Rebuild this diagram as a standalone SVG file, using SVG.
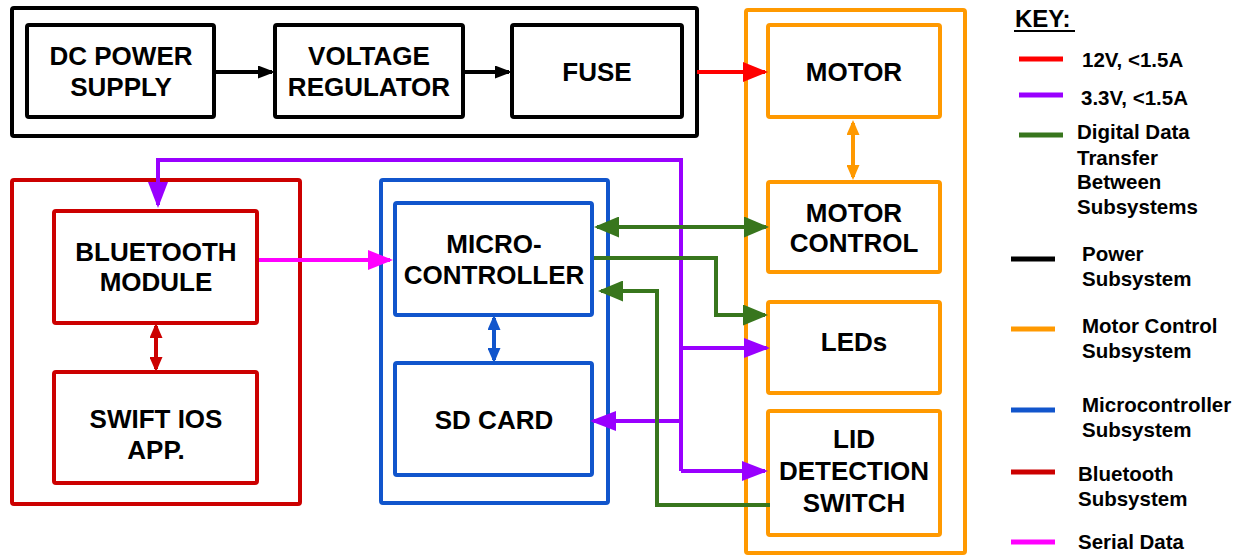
<svg xmlns="http://www.w3.org/2000/svg" width="1241" height="557" viewBox="0 0 1241 557">
<style>
text{font-family:"Liberation Sans",Arial,sans-serif;font-weight:bold;fill:#000}
.n{font-size:26px;text-anchor:middle}
.k{font-size:20.5px}
rect{fill:none;stroke-width:4}
.bk{stroke:#000}.or{stroke:#ff9900}.rd{stroke:#cc0000}.bl{stroke:#1155cc}
.c{fill:none;stroke-width:4}
.kl{stroke-width:5}
</style>
<defs>
<marker id="mBk" markerUnits="userSpaceOnUse" markerWidth="17" markerHeight="13" refX="14" refY="6.5" orient="auto-start-reverse"><path d="M0,0L17,6.5L0,13z" fill="#000"/></marker>
<marker id="mR" markerUnits="userSpaceOnUse" markerWidth="25" markerHeight="20" refX="22" refY="10" orient="auto-start-reverse"><path d="M0,0L25,10L0,20z" fill="#ff0000"/></marker>
<marker id="mP" markerUnits="userSpaceOnUse" markerWidth="26" markerHeight="20" refX="23" refY="10" orient="auto-start-reverse"><path d="M0,0L26,10L0,20z" fill="#9900ff"/></marker>
<marker id="mG" markerUnits="userSpaceOnUse" markerWidth="25" markerHeight="21" refX="22" refY="10.5" orient="auto-start-reverse"><path d="M0,0L25,10.5L0,21z" fill="#38761d"/></marker>
<marker id="mM" markerUnits="userSpaceOnUse" markerWidth="25" markerHeight="20" refX="22" refY="10" orient="auto-start-reverse"><path d="M0,0L25,10L0,20z" fill="#ff00ff"/></marker>
<marker id="mDR" markerUnits="userSpaceOnUse" markerWidth="15" markerHeight="13" refX="12" refY="6.5" orient="auto-start-reverse"><path d="M0,0L15,6.5L0,13z" fill="#cc0000"/></marker>
<marker id="mBl" markerUnits="userSpaceOnUse" markerWidth="15" markerHeight="13" refX="12" refY="6.5" orient="auto-start-reverse"><path d="M0,0L15,6.5L0,13z" fill="#1155cc"/></marker>
<marker id="mO" markerUnits="userSpaceOnUse" markerWidth="15" markerHeight="13" refX="12" refY="6.5" orient="auto-start-reverse"><path d="M0,0L15,6.5L0,13z" fill="#ff9900"/></marker>
</defs>
<rect width="1241" height="557" fill="#fff" stroke="none"/>

<g id="power-subsystem"><rect class="bk" x="12" y="8" width="685" height="128" rx="2"/></g>
<g id="motor-subsystem"><rect class="or" x="746" y="10" width="219" height="543" rx="2"/></g>
<g id="bluetooth-subsystem"><rect class="rd" x="12" y="180" width="288" height="324" rx="2"/></g>
<g id="micro-subsystem"><rect class="bl" x="381" y="180" width="227" height="323" rx="2"/></g>

<g id="dc-power-supply"><rect class="bk" x="27" y="25" width="187" height="92" rx="2"/>
<text class="n" x="121" y="65">DC POWER</text><text class="n" x="121" y="96">SUPPLY</text></g>
<g id="voltage-regulator"><rect class="bk" x="275" y="25" width="188" height="92" rx="2"/>
<text class="n" x="369" y="65">VOLTAGE</text><text class="n" x="369" y="96">REGULATOR</text></g>
<g id="fuse"><rect class="bk" x="512" y="25" width="170" height="92" rx="2"/>
<text class="n" x="597" y="81">FUSE</text></g>

<g id="motor"><rect class="or" x="768" y="25" width="172" height="92" rx="2"/>
<text class="n" x="854" y="81">MOTOR</text></g>
<g id="motor-control"><rect class="or" x="768" y="182" width="172" height="90" rx="2"/>
<text class="n" x="854" y="222">MOTOR</text><text class="n" x="854" y="252">CONTROL</text></g>
<g id="leds"><rect class="or" x="768" y="302" width="172" height="91" rx="2"/>
<text class="n" x="854" y="351">LEDs</text></g>
<g id="lid-detection-switch"><rect class="or" x="768" y="411" width="172" height="124" rx="2"/>
<text class="n" x="854" y="448">LID</text><text class="n" x="854" y="480">DETECTION</text><text class="n" x="854" y="512">SWITCH</text></g>

<g id="bluetooth-module"><rect class="rd" x="54" y="211" width="203" height="112" rx="2"/>
<text class="n" x="156" y="261">BLUETOOTH</text><text class="n" x="156" y="291">MODULE</text></g>
<g id="swift-ios-app"><rect class="rd" x="54" y="372" width="203" height="111" rx="2"/>
<text class="n" x="156" y="428">SWIFT IOS</text><text class="n" x="156" y="459">APP.</text></g>

<g id="microcontroller"><rect class="bl" x="395" y="203" width="197" height="112" rx="2"/>
<text class="n" x="494" y="253">MICRO-</text><text class="n" x="494" y="284">CONTROLLER</text></g>
<g id="sd-card"><rect class="bl" x="395" y="363" width="197" height="112" rx="2"/>
<text class="n" x="494" y="429">SD CARD</text></g>

<g id="connectors">
<polyline class="c" stroke="#9900ff" points="681,471 681,160 158,160 158,205" marker-end="url(#mP)"/>
<line class="c" stroke="#9900ff" x1="681" y1="348" x2="767" y2="348" marker-end="url(#mP)"/>
<line class="c" stroke="#9900ff" x1="681" y1="471" x2="765" y2="471" marker-end="url(#mP)"/>
<line class="c" stroke="#9900ff" x1="681" y1="421" x2="593" y2="421" marker-end="url(#mP)"/>
<line class="c" stroke="#ff00ff" x1="259" y1="260" x2="390" y2="260" marker-end="url(#mM)"/>
<line class="c" stroke="#ff0000" x1="697" y1="72" x2="765" y2="72" marker-end="url(#mR)"/>
<line class="c" stroke="#000" stroke-width="2.5" x1="216" y1="72" x2="272" y2="72" marker-end="url(#mBk)"/>
<line class="c" stroke="#000" stroke-width="2.5" x1="465" y1="72" x2="509" y2="72" marker-end="url(#mBk)"/>
<line class="c" stroke="#cc0000" stroke-width="3" x1="156" y1="326" x2="156" y2="369" marker-start="url(#mDR)" marker-end="url(#mDR)"/>
<line class="c" stroke="#1155cc" stroke-width="3" x1="494" y1="318" x2="494" y2="360" marker-start="url(#mBl)" marker-end="url(#mBl)"/>
<line class="c" stroke="#ff9900" stroke-width="2.5" x1="853" y1="123" x2="853" y2="177" marker-start="url(#mO)" marker-end="url(#mO)"/>
<line class="c" stroke="#38761d" x1="597" y1="227" x2="766" y2="227" marker-start="url(#mG)" marker-end="url(#mG)"/>
<polyline class="c" stroke="#38761d" points="594,258 716,258 716,315 765,315" marker-end="url(#mG)"/>
<polyline class="c" stroke="#38761d" points="770,505 657,505 657,291 601,291" marker-end="url(#mG)"/>
</g>

<g id="key">
<text x="1015" y="27" style="font-size:24px">KEY:</text>
<line x1="1014" y1="31" x2="1075" y2="31" stroke="#000" stroke-width="2"/>
<line class="kl" x1="1019" y1="59" x2="1063" y2="59" stroke="#ff0000"/>
<text class="k" x="1082" y="67">12V, &lt;1.5A</text>
<line class="kl" x1="1019" y1="95" x2="1063" y2="95" stroke="#9900ff"/>
<text class="k" x="1081" y="105">3.3V, &lt;1.5A</text>
<line class="kl" x1="1019" y1="135" x2="1063" y2="135" stroke="#38761d"/>
<text class="k" x="1077" y="139">Digital Data</text>
<text class="k" x="1077" y="165">Transfer</text>
<text class="k" x="1077" y="189">Between</text>
<text class="k" x="1077" y="214">Subsystems</text>
<line class="kl" x1="1011" y1="259" x2="1055" y2="259" stroke="#000"/>
<text class="k" x="1082" y="261">Power</text>
<text class="k" x="1082" y="286">Subsystem</text>
<line class="kl" x1="1011" y1="329" x2="1055" y2="329" stroke="#ff9900"/>
<text class="k" x="1082" y="333">Motor Control</text>
<text class="k" x="1082" y="358">Subsystem</text>
<line class="kl" x1="1011" y1="410" x2="1055" y2="410" stroke="#1155cc"/>
<text class="k" x="1082" y="412">Microcontroller</text>
<text class="k" x="1082" y="437">Subsystem</text>
<line class="kl" x1="1011" y1="472" x2="1055" y2="472" stroke="#cc0000"/>
<text class="k" x="1078" y="481">Bluetooth</text>
<text class="k" x="1078" y="506">Subsystem</text>
<line class="kl" x1="1011" y1="542" x2="1055" y2="542" stroke="#ff00ff"/>
<text class="k" x="1078" y="549">Serial Data</text>
</g>
</svg>
